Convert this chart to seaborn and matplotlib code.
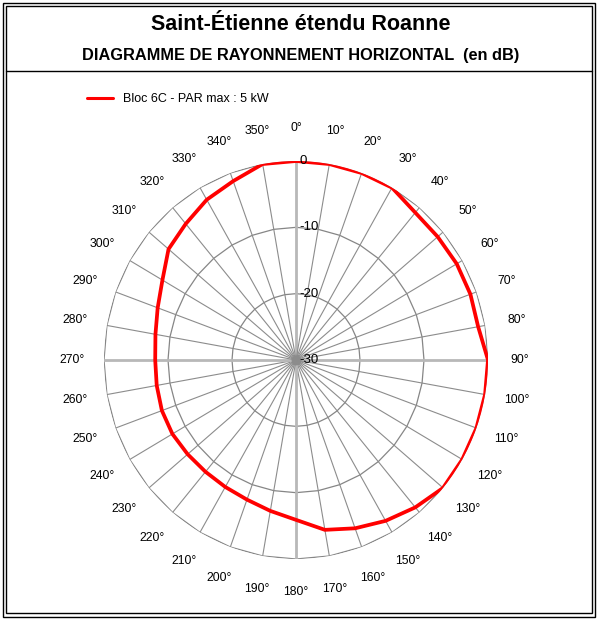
import matplotlib
matplotlib.use("Agg")
import matplotlib.pyplot as plt
import matplotlib.transforms as mtransforms
from matplotlib.patches import Rectangle
from matplotlib.lines import Line2D
import numpy as np
import pandas as pd
import seaborn as sns

# horizontal pattern, one value every 10 degrees (dB)
angles_deg = list(range(0, 360, 10))
gain_db = [0, 0, 0, 0, -1.0, -1.1, -1.0, -1.0, -1.1, 0,
           0, 0, 0, 0, -1.0, -2.0, -3.0, -4.0, -5.9, -6.9,
           -7.6, -7.9, -8.0, -7.9, -7.7, -7.7, -7.9, -8.0, -7.7, -7.0,
           -5.9, -4.0, -3.2, -2.1, -1.3, 0]
ring_levels = [-20, -10, 0]
radial_values = [0, -10, -20, -30]
radial_labels = ["0", "-10", "-20", "-30"]
series_name = "Bloc 6C - PAR max : 5 kW"
title = "Saint-Étienne étendu Roanne"
subtitle = "DIAGRAMME DE RAYONNEMENT HORIZONTAL  (en dB)"

W, H = 600, 621

sns.set_theme(style="white")
plt.rcParams["font.family"] = ["Liberation Sans", "DejaVu Sans"]
plt.rcParams["text.color"] = "black"

fig = plt.figure(figsize=(W / 100, H / 100), dpi=100)
fig.patch.set_facecolor("white")

# polar area: centre (296, 360) px, radius 192 px wide / 199 px tall
ax = fig.add_axes([104 / W, (H - 360 - 199) / H, 384 / W, 398 / H], projection="polar")
ax.set_aspect("auto")
ax.set_theta_zero_location("N")
ax.set_theta_direction(-1)
ax.set_ylim(-30, 0)
ax.grid(False)
ax.spines["polar"].set_visible(False)
ax.set_xticks([])
ax.set_yticks([])
ax.patch.set_alpha(0)

theta = np.radians(angles_deg)
theta_closed = np.append(theta, theta[0])

# polygon rings
for lev in ring_levels:
    ax.plot(theta_closed, [lev] * len(theta_closed), color="#868686", lw=0.9, zorder=1)

# spokes (main axes lighter and thicker)
for a, t in zip(angles_deg, theta):
    if a % 90 == 0:
        ax.plot([t, t], [-30, 0], color="#b8b8b8", lw=2.0, zorder=1)
    else:
        ax.plot([t, t], [-30, 0], color="#8c8c8c", lw=0.8, zorder=1)
ax.scatter([0], [-30], s=50, color="#8c8c8c", zorder=2, linewidths=0)

# the pattern
df = pd.DataFrame({"theta": theta_closed, "gain": gain_db + [gain_db[0]]})
sns.lineplot(data=df, x="theta", y="gain", sort=False, estimator=None,
             color="#ff0000", lw=2.7, ax=ax, label=series_name, legend=False, zorder=3)
ax.set_xlabel("")
ax.set_ylabel("")
ax.set_ylim(-30, 0)

# angle labels
for a, t in zip(angles_deg, theta):
    ax.text(t, 5.0, f"{a}°", ha="center", va="center", fontsize=8.8,
            color="black", clip_on=False)

# dB labels next to the 0° axis
off = mtransforms.offset_copy(ax.transData, fig=fig, x=3, y=0, units="dots")
for v, lab in zip(radial_values, radial_labels):
    ax.text(0, v, lab, transform=off, ha="left", va="center", fontsize=9.5,
            color="black", clip_on=False, zorder=4)

# legend
handle = Line2D([0], [0], color="#ff0000", lw=2.2)
fig.legend(handles=[handle], labels=[series_name], loc="center left",
           bbox_to_anchor=(87 / W, (H - 99) / H), frameon=False, fontsize=9,
           handlelength=2.1, handletextpad=0.8, borderpad=0, borderaxespad=0,
           labelcolor="black")

# titles
fig.text(301 / W, (H - 30) / H, title, ha="center", va="baseline",
         fontsize=15.5, fontweight="bold", color="black")
fig.text(301 / W, (H - 60) / H, subtitle, ha="center", va="baseline",
         fontsize=11.8, fontweight="bold", color="black")

# double frame and title separator
fig.add_artist(Rectangle((3 / W, (H - 617) / H), 592 / W, 614 / H, transform=fig.transFigure,
                         fill=False, edgecolor="black", lw=1.0))
fig.add_artist(Rectangle((6 / W, (H - 613) / H), 586 / W, 607 / H, transform=fig.transFigure,
                         fill=False, edgecolor="black", lw=1.0))
fig.add_artist(Line2D([6 / W, 592 / W], [(H - 71) / H, (H - 71) / H],
                      transform=fig.transFigure, color="black", lw=1.0))

fig.savefig("out.png", dpi=100)
